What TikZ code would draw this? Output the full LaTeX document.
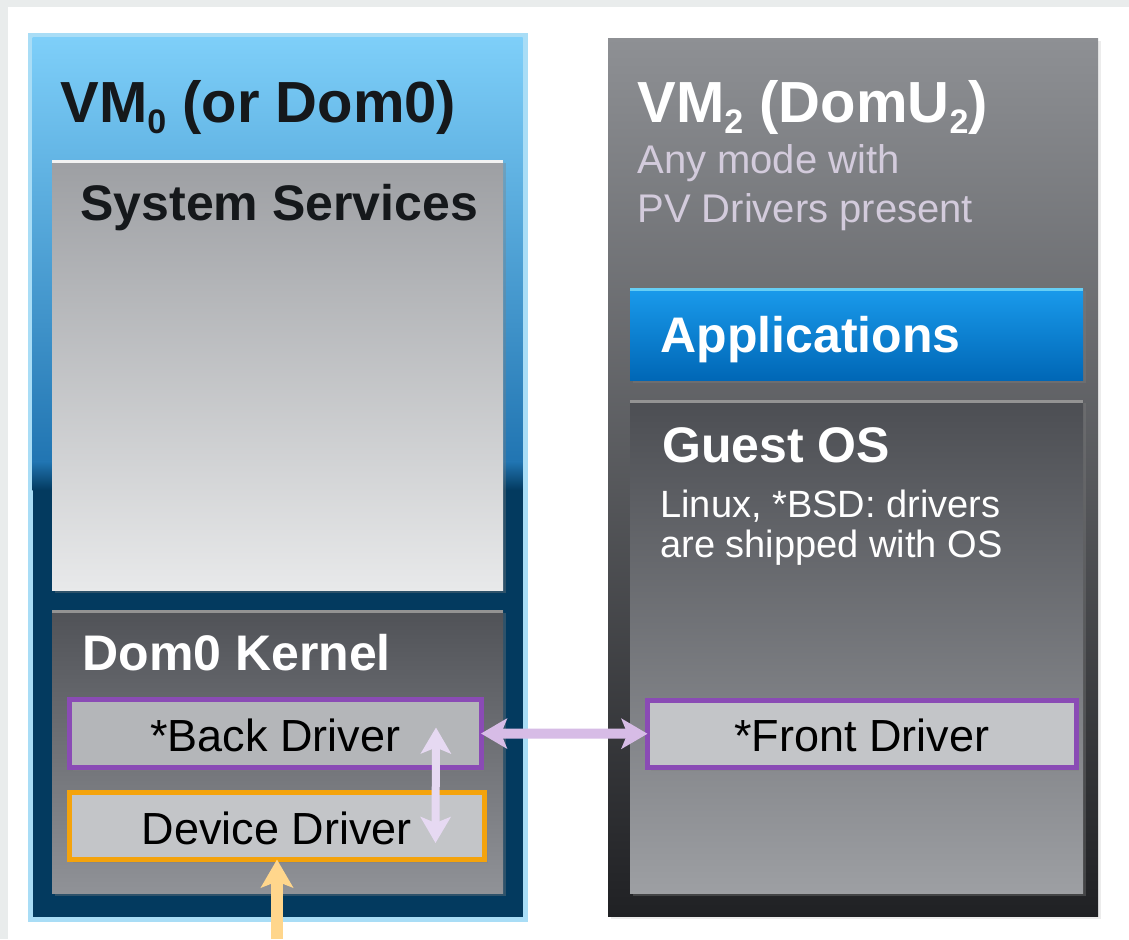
\documentclass[tikz,border=0pt]{standalone}
\usepackage{fontspec}
\setmainfont{Liberation Sans}
\usetikzlibrary{fit,arrows.meta,shadows}

\definecolor{paper}{HTML}{E9ECEC}
\definecolor{vmrim}{HTML}{A9DDF6}
\definecolor{vmtop}{HTML}{7ECFF9}
\definecolor{vmmid}{HTML}{2175B2}
\definecolor{navy}{HTML}{033A5F}
\definecolor{gtop}{HTML}{8E9094}
\definecolor{gmid}{HTML}{4E5054}
\definecolor{gbot}{HTML}{202124}
\definecolor{sstop}{HTML}{9D9FA3}
\definecolor{ssbot}{HTML}{E8E9EA}
\definecolor{ktop}{HTML}{505257}
\definecolor{kbot}{HTML}{909297}
\definecolor{ostop}{HTML}{4C4E53}
\definecolor{osbot}{HTML}{9D9FA3}
\definecolor{apptop}{HTML}{1A9BEC}
\definecolor{appbot}{HTML}{0067B6}
\definecolor{drva}{HTML}{B4B6B9}
\definecolor{drvb}{HTML}{C3C5C8}
\definecolor{pv}{HTML}{8A4BB5}
\definecolor{hw}{HTML}{F4A30C}
\definecolor{lav}{HTML}{D7BCE6}
\definecolor{lavl}{HTML}{E6D9F2}
\definecolor{sand}{HTML}{FFD68C}
\definecolor{note}{HTML}{D3CBDC}
\definecolor{ink}{HTML}{15181B}

\newcommand{\vmsub}[1]{\raisebox{-5.5pt}{\fontsize{17}{17}\selectfont#1}}

\tikzset{
  box/.style={inner sep=0pt, outer sep=0pt},
  vmshadow/.style={drop shadow={shadow xshift=1.5pt,shadow yshift=-1.5pt,opacity=.15}},
  sunk/.style={drop shadow={shadow xshift=1.5pt,shadow yshift=-1.5pt,opacity=.35}},
  vmtitle/.style={anchor=base west, inner sep=0pt, font=\bfseries\fontsize{29}{34}\selectfont},
  head/.style={anchor=base west, inner sep=0pt, font=\bfseries\fontsize{25}{30}\selectfont},
  drv/.style={box, line width=2.5pt, sunk},
  drvtxt/.style={inner sep=0pt, text=black, font=\fontsize{22.5}{27}\selectfont},
  rim/.style={line width=1.5pt},
  pvlink/.style={draw=lav, line width=5pt, {Stealth[length=13pt,width=15pt,inset=3pt]}-{Stealth[length=13pt,width=15pt,inset=3pt]}},
  iolink/.style={draw=sand, line width=6pt, -{Stealth[length=14pt,width=16pt,inset=3pt]}}
}

\begin{document}
\begin{tikzpicture}[x=0.5pt,y=-0.5pt]
  \useasboundingbox (0,0) rectangle (1129,939);
  \fill[paper] (0,0) rectangle (1129,939);
  \fill[white] (8,7) rectangle (1129,939);

  % VM0 (Dom0)
  \node[box, fit={(30,35) (525,919)}, fill=navy, draw=vmrim, line width=2.5pt, vmshadow] (vm0) {};
  \shade[top color=vmtop, bottom color=vmmid] (32.5,37.5) rectangle (522.5,462);
  \shade[top color=vmmid, bottom color=navy] (32.5,461.5) rectangle (522.5,490);
  \node[vmtitle, text=ink] (vm0t) at (60,122) {VM\vmsub{0} (or Dom0)};

  \node[box, fit={(52,160) (503,590)}, top color=sstop, bottom color=ssbot, sunk] (sys) {};
  \draw[rim, white!90!gray] ([yshift=-0.75pt]sys.north west) -- ([yshift=-0.75pt]sys.north east);
  \node[head, text=ink] (syst) at (80,220) {System Services};

  \node[box, fit={(52,610) (503,893)}, top color=ktop, bottom color=kbot, sunk] (kern) {};
  \draw[rim, gray!85] ([yshift=-0.75pt]kern.north west) -- ([yshift=-0.75pt]kern.north east);
  \node[head, text=white] (kernt) at (82,670) {Dom0 Kernel};

  \node[drv, fit={(69.5,699.5) (481,767.5)}, fill=drva, draw=pv] (back) {};
  \node[drvtxt] (backt) at ([yshift=-1pt]back.center) {*Back Driver};
  \node[drv, fit={(69.5,792.5) (484.5,859.5)}, fill=drvb, draw=hw] (dev) {};
  \node[drvtxt] (devt) at ([yshift=-1pt]dev.center) {Device Driver};

  % VM2 (DomU2)
  \node[box, fit={(608,38) (1098,916)}, top color=gtop, middle color=gmid, bottom color=gbot, vmshadow] (vm2) {};
  \node[vmtitle, text=white] (vm2t) at (637,122) {VM\vmsub{2} (DomU\vmsub{2})};
  \node[anchor=base west, inner sep=0pt, text=note, font=\fontsize{20}{24}\selectfont] (mode1) at (637,173) {Any mode with};
  \node[anchor=base west, inner sep=0pt, text=note, font=\fontsize{20}{24}\selectfont] (mode2) at (637,222) {PV Drivers present};

  \node[box, fit={(630,288) (1083,380)}, top color=apptop, bottom color=appbot, sunk] (app) {};
  \draw[rim, cyan!60!white] ([yshift=-0.75pt]app.north west) -- ([yshift=-0.75pt]app.north east);
  \node[head, text=white] (appt) at (660,352) {Applications};

  \node[box, fit={(630,400) (1083,893)}, top color=ostop, bottom color=osbot, sunk] (os) {};
  \draw[rim, gray!85] ([yshift=-0.75pt]os.north west) -- ([yshift=-0.75pt]os.north east);
  \node[head, text=white] (ost) at (662,462) {Guest OS};
  \node[anchor=base west, inner sep=0pt, text=white, font=\fontsize{19}{20}\selectfont] (os1) at (660,517) {Linux, *BSD: drivers};
  \node[anchor=base west, inner sep=0pt, text=white, font=\fontsize{19}{20}\selectfont] (os2) at (660,557) {are shipped with OS};

  \node[drv, fit={(647.5,700) (1076,767.5)}, fill=drvb, draw=pv] (front) {};
  \node[drvtxt] (frontt) at ([yshift=-1pt]front.center) {*Front Driver};

  % links
  \draw[pvlink] (back.east) -- (front.west);
  \draw[pvlink, draw=lavl, line width=4pt] ([xshift=-22.5pt,yshift=3pt]back.east) -- ([xshift=-24.5pt,yshift=-8.5pt]dev.east);
  \coordinate (io) at (277,939);
  \draw[iolink] (io) -- (dev.south);
\end{tikzpicture}
\end{document}
